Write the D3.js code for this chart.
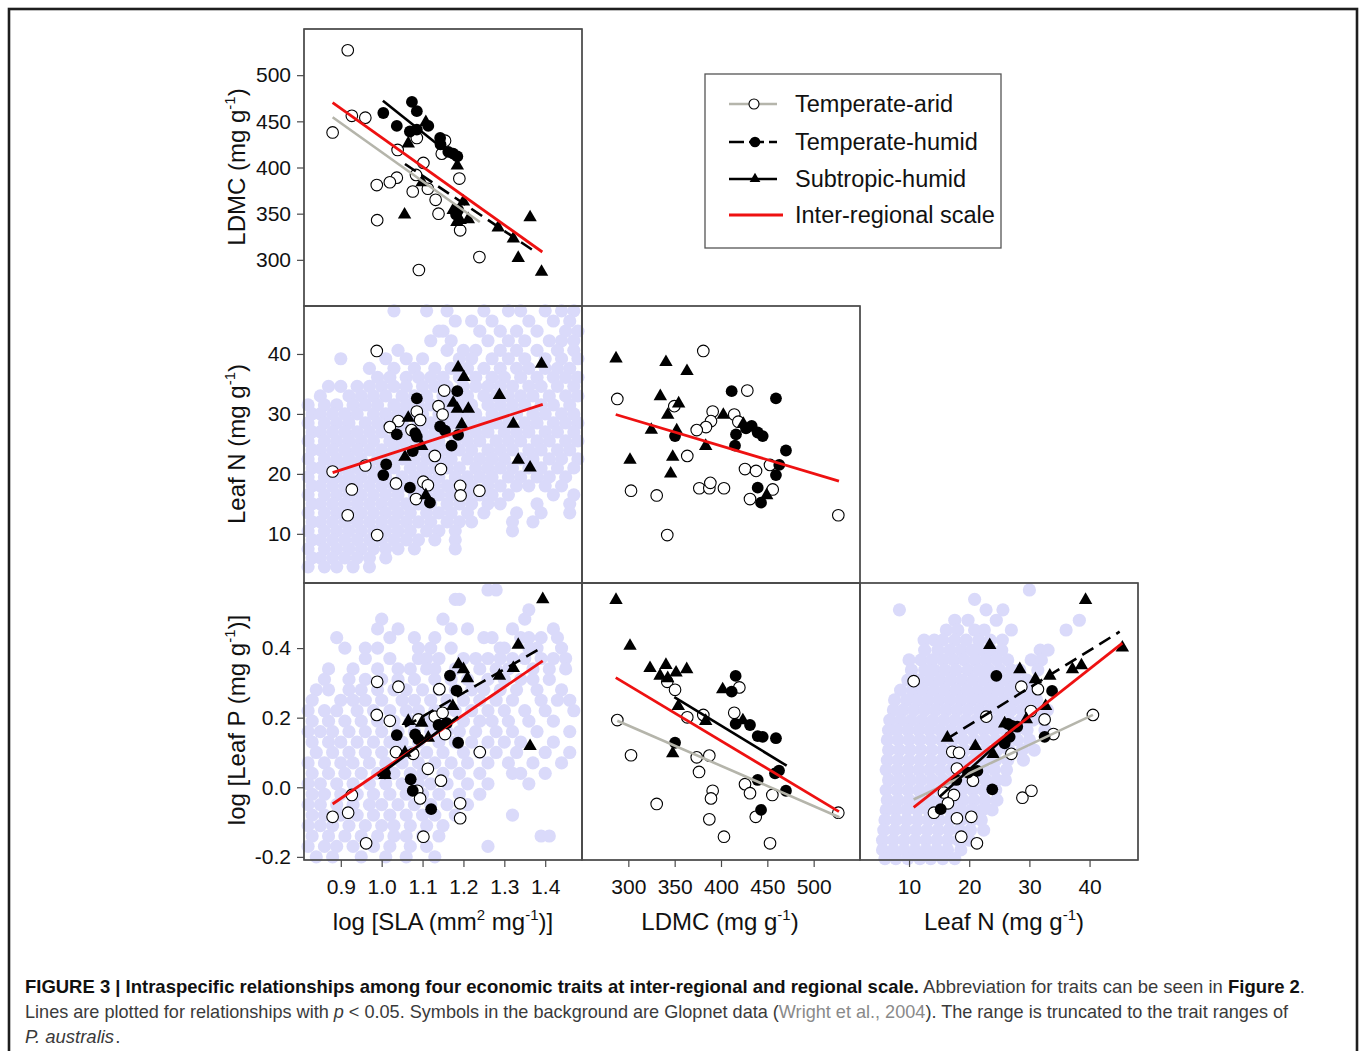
<!DOCTYPE html>
<html><head><meta charset="utf-8">
<script src="https://cdn.jsdelivr.net/npm/d3@7"></script>
<style>body{margin:0;background:#fff}text{font-family:"Liberation Sans",Arial,sans-serif}</style>
</head><body>
<svg id="c" width="1360" height="1051"></svg>
<script>
// ---------- tick labels ----------
const slaTicks = [0.9, 1.0, 1.1, 1.2, 1.3, 1.4];
const ldmcTicks = [300, 350, 400, 450, 500];
const nTicks = [10, 20, 30, 40];
const pTicks = [-0.2, 0.0, 0.2, 0.4];
const legendLabels = ["Temperate-arid", "Temperate-humid", "Subtropic-humid", "Inter-regional scale"];

// ---------- Panel A: log SLA vs LDMC ----------
const A_arid = [[0.917,527],[0.927,456],[0.960,454],[0.880,438],[1.039,419],[1.086,432],[1.155,429],[1.147,415],[1.102,405],[1.084,392],[1.037,389],[1.020,384],[0.988,381],[1.076,374],[1.113,377],[1.132,365],[1.190,388],[1.139,350],[0.989,343],[1.192,332],[1.239,303],[1.091,289]];
const A_humid = [[1.074,471],[1.004,459],[1.086,461],[1.037,445],[1.069,439],[1.086,441],[1.114,445],[1.143,432],[1.144,425],[1.163,417],[1.175,415],[1.185,412],[1.187,354],[1.182,349]];
const A_sub = [[1.065,427],[1.108,450],[1.185,403],[1.099,385],[1.056,350],[1.200,364],[1.175,355],[1.192,344],[1.212,345],[1.184,342],[1.285,336],[1.322,324],[1.363,347],[1.334,303],[1.391,288]];
const A_fits = [
  {g:"inter", x:[0.880,1.393], y:[470.2,308.5]},
  {g:"arid",  x:[0.880,1.240], y:[454.4,341.0]},
  {g:"sub",   x:[1.003,1.184], y:[472.3,408.5]},
  {g:"humid", x:[1.057,1.381], y:[403.8,307.1]}
];

// ---------- Panel B: log SLA vs Leaf N ----------
const B_arid = [[0.988,40.5],[1.153,33.9],[1.139,31.3],[1.149,29.9],[1.086,30.4],[1.094,29.0],[1.041,28.8],[1.020,27.8],[1.073,27.3],[0.880,20.4],[0.960,21.4],[1.130,23.0],[1.145,20.8],[0.927,17.4],[1.035,18.4],[1.102,18.7],[1.113,18.1],[1.084,15.8],[1.192,18.0],[1.193,16.4],[1.239,17.2],[0.917,13.1],[0.989,9.8]];
const B_humid = [[1.086,32.6],[1.185,33.8],[1.143,27.9],[1.037,26.6],[1.082,26.8],[1.086,26.2],[1.155,27.2],[1.187,26.5],[1.171,24.7],[1.076,23.8],[1.011,21.6],[1.004,19.8],[1.069,17.7],[1.118,15.2]];
const B_sub = [[1.187,37.9],[1.201,36.3],[1.391,38.5],[1.288,33.3],[1.175,32.0],[1.185,31.0],[1.212,31.0],[1.196,28.4],[1.065,29.5],[1.322,28.5],[1.098,24.8],[1.057,23.0],[1.334,22.5],[1.363,21.2],[1.108,16.6]];
const B_fits = [{g:"inter", x:[0.880,1.394], y:[20.2,31.6]}];
// Glopnet background (rows: Leaf N, list of log SLA)
const B_glop = [
 [47.2,[1.03,1.11,1.16,1.25,1.31,1.34,1.40,1.44,1.47]],
 [45.5,[1.18,1.22,1.27,1.36,1.42,1.46]],
 [43.8,[1.14,1.15,1.24,1.29,1.33,1.38,1.45,1.48]],
 [42.2,[1.12,1.17,1.26,1.31,1.35,1.41,1.44,1.47]],
 [40.6,[1.04,1.16,1.20,1.23,1.29,1.33,1.38,1.43,1.47]],
 [39.2,[0.90,1.01,1.06,1.10,1.19,1.22,1.27,1.31,1.35,1.40,1.44,1.48]],
 [37.6,[0.97,1.03,1.08,1.13,1.17,1.21,1.25,1.29,1.33,1.36,1.40,1.43,1.46]],
 [36.1,[0.99,1.02,1.06,1.09,1.12,1.15,1.19,1.23,1.27,1.30,1.34,1.38,1.42,1.45,1.48]],
 [34.6,[0.87,0.90,0.94,0.97,1.00,1.03,1.06,1.10,1.13,1.16,1.20,1.23,1.26,1.29,1.32,1.36,1.39,1.43,1.47]],
 [33.0,[0.85,0.92,0.95,0.98,1.01,1.05,1.08,1.11,1.15,1.18,1.21,1.25,1.28,1.31,1.34,1.37,1.41,1.45,1.48]],
 [31.5,[0.82,0.86,0.89,0.93,0.96,0.99,1.03,1.06,1.09,1.12,1.16,1.19,1.22,1.26,1.29,1.32,1.35,1.39,1.42,1.46]],
 [30.0,[0.83,0.85,0.88,0.91,0.94,0.98,1.01,1.04,1.07,1.10,1.14,1.17,1.20,1.23,1.27,1.30,1.33,1.37,1.40,1.44,1.47]],
 [28.5,[0.82,0.86,0.89,0.92,0.96,0.99,1.02,1.05,1.09,1.12,1.15,1.18,1.22,1.25,1.28,1.31,1.35,1.38,1.42,1.45,1.48]],
 [27.0,[0.83,0.85,0.88,0.91,0.94,0.97,1.00,1.04,1.07,1.10,1.13,1.16,1.20,1.23,1.26,1.30,1.33,1.36,1.40,1.43,1.47]],
 [25.5,[0.82,0.86,0.89,0.92,0.95,0.98,1.02,1.05,1.08,1.11,1.14,1.18,1.21,1.24,1.28,1.31,1.34,1.38,1.41,1.45,1.48]],
 [24.0,[0.83,0.85,0.88,0.91,0.94,0.97,1.00,1.03,1.06,1.10,1.13,1.16,1.19,1.22,1.26,1.29,1.32,1.36,1.39,1.43,1.46]],
 [22.5,[0.82,0.86,0.89,0.92,0.95,0.99,1.02,1.05,1.08,1.11,1.14,1.17,1.21,1.24,1.27,1.30,1.34,1.37,1.41,1.44,1.48]],
 [21.0,[0.83,0.85,0.88,0.91,0.94,0.97,1.00,1.03,1.07,1.10,1.13,1.16,1.19,1.23,1.26,1.29,1.32,1.36,1.39,1.43,1.47]],
 [19.5,[0.82,0.86,0.89,0.92,0.95,0.98,1.01,1.05,1.08,1.11,1.14,1.18,1.21,1.24,1.27,1.31,1.34,1.38,1.41,1.45]],
 [18.0,[0.83,0.85,0.88,0.91,0.94,0.97,1.00,1.03,1.06,1.09,1.13,1.16,1.19,1.22,1.26,1.29,1.33,1.36,1.40,1.44]],
 [16.5,[0.82,0.86,0.89,0.92,0.95,0.98,1.01,1.04,1.08,1.11,1.14,1.17,1.21,1.24,1.27,1.31,1.42,1.47]],
 [15.0,[0.83,0.85,0.88,0.91,0.94,0.97,1.00,1.03,1.06,1.09,1.12,1.16,1.19,1.22,1.26,1.29,1.38,1.46]],
 [13.5,[0.82,0.86,0.89,0.92,0.95,0.98,1.01,1.04,1.07,1.11,1.14,1.17,1.21,1.25,1.33,1.39,1.46]],
 [12.0,[0.83,0.85,0.88,0.91,0.94,0.97,1.00,1.03,1.06,1.09,1.12,1.16,1.19,1.22,1.32,1.37]],
 [10.5,[0.82,0.86,0.89,0.92,0.95,0.98,1.01,1.04,1.07,1.11,1.14,1.18,1.32]],
 [9.0,[0.83,0.85,0.88,0.91,0.94,0.97,1.00,1.03,1.06,1.09,1.13,1.18]],
 [7.5,[0.82,0.86,0.89,0.92,0.95,0.98,1.01,1.04,1.08,1.18]],
 [6.0,[0.83,0.85,0.88,0.91,0.94,0.97,1.01]],
 [4.5,[0.82,0.86,0.89,0.93,0.97]]
];

// ---------- Panel C: LDMC vs Leaf N ----------
const C_arid = [[380.9,40.5],[288.1,32.5],[428.4,33.9],[349.6,31.3],[391.0,30.4],[414.3,29.9],[389.2,28.8],[383.8,27.8],[373.8,27.3],[418.7,28.7],[363.6,23.0],[425.9,20.8],[437.8,20.5],[452.9,21.5],[302.9,17.2],[330.6,16.4],[376.6,17.6],[387.4,17.6],[388.5,18.5],[403.2,17.6],[431.3,15.8],[455.8,17.4],[526.6,13.1],[342.0,9.8]];
const C_humid = [[411.5,33.8],[459.3,32.6],[350.4,26.3],[416.2,26.6],[415.1,24.7],[427.0,27.6],[433.1,28.0],[439.6,26.9],[445.0,26.3],[470.1,23.9],[462.9,21.5],[459.3,19.8],[439.6,17.7],[443.2,15.2]];
const C_sub = [[286.7,39.4],[340.6,38.8],[363.3,37.3],[334.5,33.1],[354.3,31.9],[342.5,30.0],[402.5,30.0],[424.1,28.5],[324.8,27.5],[352.2,27.4],[383.5,24.8],[301.8,22.5],[347.9,23.0],[345.7,20.2],[449.3,16.6]];
const C_fits = [{g:"inter", x:[286.4,527.3], y:[29.9,18.8]}];

// ---------- Panel D: log SLA vs log Leaf P ----------
const D_arid = [[0.989,0.303],[1.041,0.289],[1.141,0.282],[0.988,0.208],[1.020,0.191],[1.090,0.195],[1.130,0.203],[1.149,0.214],[1.155,0.153],[1.035,0.101],[1.077,0.096],[1.240,0.101],[1.113,0.053],[1.145,0.019],[0.927,-0.022],[1.087,-0.010],[1.094,-0.032],[0.918,-0.073],[0.880,-0.085],[1.192,-0.046],[1.192,-0.089],[1.102,-0.142],[0.962,-0.161]];
const D_humid = [[1.167,0.321],[1.183,0.278],[1.139,0.179],[1.159,0.184],[1.037,0.150],[1.082,0.152],[1.090,0.138],[1.187,0.128],[1.008,0.040],[1.071,0.023],[1.076,-0.010],[1.121,-0.063]];
const D_sub = [[1.394,0.543],[1.334,0.412],[1.188,0.356],[1.200,0.342],[1.210,0.316],[1.288,0.323],[1.322,0.345],[1.174,0.236],[1.065,0.193],[1.098,0.188],[1.114,0.145],[1.057,0.102],[1.363,0.121],[1.008,0.038]];
const D_fits = [
  {g:"inter", x:[0.880,1.394], y:[-0.048,0.363]},
  {g:"humid", x:[1.057,1.381], y:[0.174,0.394]},
  {g:"sub",   x:[0.990,1.187], y:[0.032,0.203]}
];
// Glopnet background (rows: log P, list of log SLA)
const D_glop = [
 [0.567,[1.26,1.28]],
 [0.540,[1.18,1.19]],
 [0.510,[1.36]],
 [0.483,[1.00,1.35,1.15]],
 [0.455,[0.99,1.04,1.17,1.21,1.32,1.42]],
 [0.430,[0.89,1.02,1.08,1.13,1.25,1.27,1.34,1.36,1.39,1.43]],
 [0.400,[0.91,0.96,0.99,1.09,1.12,1.17,1.29,1.30,1.36,1.38,1.44]],
 [0.370,[0.96,1.02,1.09,1.11,1.14,1.20,1.23,1.26,1.29,1.32,1.35,1.39,1.42,1.45]],
 [0.340,[0.87,0.93,0.99,1.04,1.07,1.11,1.13,1.18,1.24,1.28,1.31,1.37,1.41,1.45]],
 [0.310,[0.86,0.92,0.96,1.00,1.04,1.08,1.13,1.17,1.21,1.26,1.30,1.34,1.37,1.41]],
 [0.280,[0.84,0.87,0.92,0.95,0.99,1.03,1.06,1.10,1.14,1.18,1.22,1.25,1.29,1.33,1.38,1.44]],
 [0.250,[0.83,0.90,0.93,0.96,1.00,1.05,1.08,1.12,1.16,1.20,1.24,1.28,1.32,1.39,1.43,1.46]],
 [0.220,[0.82,0.86,0.89,0.94,0.98,1.02,1.06,1.09,1.13,1.18,1.22,1.26,1.30,1.35,1.40,1.47]],
 [0.190,[0.83,0.87,0.91,0.95,0.99,1.03,1.07,1.11,1.15,1.20,1.24,1.27,1.31,1.36,1.42]],
 [0.160,[0.82,0.85,0.88,0.92,0.96,1.00,1.04,1.08,1.12,1.16,1.19,1.23,1.28,1.32,1.38,1.46]],
 [0.130,[0.83,0.87,0.90,0.94,0.98,1.02,1.05,1.09,1.14,1.18,1.22,1.26,1.30,1.34,1.42]],
 [0.100,[0.84,0.88,0.92,0.96,1.00,1.04,1.07,1.11,1.15,1.20,1.24,1.28,1.33,1.40,1.46]],
 [0.070,[0.82,0.86,0.90,0.93,0.97,1.01,1.05,1.09,1.13,1.17,1.21,1.26,1.31,1.37,1.44]],
 [0.040,[0.83,0.87,0.91,0.95,0.99,1.03,1.07,1.10,1.15,1.19,1.24,1.32,1.34,1.40]],
 [0.010,[0.82,0.85,0.89,0.93,0.97,1.01,1.05,1.09,1.12,1.16,1.21,1.26,1.36]],
 [-0.020,[0.83,0.86,0.90,0.94,0.98,1.02,1.06,1.10,1.14,1.19,1.24]],
 [-0.050,[0.82,0.85,0.89,0.93,0.97,1.00,1.04,1.08,1.12,1.16,1.21]],
 [-0.080,[0.83,0.86,0.90,0.94,0.98,1.02,1.06,1.10,1.13,1.18,1.32]],
 [-0.110,[0.82,0.85,0.88,0.92,0.96,1.00,1.03,1.07,1.11,1.15]],
 [-0.140,[0.83,0.87,0.91,0.95,0.99,1.03,1.06,1.10,1.14,1.39,1.41]],
 [-0.170,[0.82,0.86,0.89,0.93,0.98,1.02,1.07,1.11,1.26]],
 [-0.200,[0.84,0.88,0.95,1.01,1.06,1.13]]
];

// ---------- Panel E: LDMC vs log Leaf P ----------
const E_arid = [[342.0,0.303],[350.4,0.280],[419.8,0.287],[288.1,0.193],[363.6,0.201],[380.9,0.208],[414.3,0.214],[302.9,0.092],[373.8,0.086],[387.4,0.091],[376.3,0.044],[391.0,-0.010],[389.2,-0.032],[425.9,0.009],[431.3,-0.017],[455.4,-0.022],[330.6,-0.048],[387.4,-0.092],[437.5,-0.085],[403.2,-0.142],[452.9,-0.161],[526.6,-0.073]];
const E_humid = [[415.8,0.320],[411.5,0.275],[415.8,0.182],[431.3,0.179],[439.6,0.147],[445.0,0.145],[459.3,0.141],[350.4,0.128],[462.6,0.048],[458.3,0.040],[439.6,0.021],[470.1,-0.010],[443.2,-0.065]];
const E_sub = [[286.7,0.541],[301.8,0.409],[323.4,0.345],[340.6,0.354],[334.2,0.323],[342.5,0.316],[351.5,0.332],[363.0,0.342],[353.9,0.236],[383.5,0.193],[401.8,0.284],[423.6,0.195],[347.9,0.100]];
const E_fits = [
  {g:"arid",  x:[288.1,527.7], y:[0.191,-0.086]},
  {g:"inter", x:[286.4,527.3], y:[0.315,-0.070]},
  {g:"sub",   x:[349.6,470.9], y:[0.259,0.062]}
];

// ---------- Panel F: Leaf N vs log Leaf P ----------
const F_arid = [[10.77,0.305],[28.66,0.289],[31.42,0.282],[22.83,0.203],[30.26,0.219],[32.53,0.195],[40.56,0.208],[27.0,0.096],[17.18,0.102],[18.3,0.099],[34.0,0.153],[17.96,0.054],[20.62,0.019],[15.8,-0.015],[17.46,-0.022],[28.84,-0.030],[30.34,-0.010],[16.47,-0.046],[14.14,-0.073],[17.96,-0.089],[20.35,-0.085],[18.68,-0.142],[21.28,-0.161]];
const F_humid = [[24.51,0.320],[33.77,0.277],[26.43,0.182],[27.1,0.176],[27.98,0.174],[32.53,0.145],[26.72,0.145],[25.89,0.126],[21.35,0.047],[19.79,0.042],[17.85,0.021],[23.83,-0.006],[15.26,-0.063]];
const F_sub = [[39.34,0.541],[23.41,0.411],[28.41,0.342],[31.0,0.313],[33.39,0.323],[37.15,0.342],[38.65,0.353],[45.45,0.404],[16.37,0.145],[21.02,0.121],[23.96,0.098],[25.89,0.186],[29.49,0.198],[32.7,0.236]];
const F_fits = [
  {g:"arid",  x:[10.77,40.56], y:[-0.035,0.208]},
  {g:"sub",   x:[15.09,27.83], y:[-0.027,0.174]},
  {g:"humid", x:[16.2,45.0],   y:[0.138,0.447]},
  {g:"inter", x:[10.77,45.45], y:[-0.058,0.414]}
];
// Glopnet background (rows: log P, list of Leaf N)
const F_glop = [
 [0.567,[30.0]],
 [0.540,[20.9]],
 [0.510,[8.4,22.8,25.6]],
 [0.480,[17.6,19.8,24.5,38.3]],
 [0.452,[16.2,18.1,20.9,22.5,27.0,36.1]],
 [0.423,[12.5,14.2,15.6,17.6,19.5,21.6,23.5,25.5]],
 [0.394,[12.6,14.8,16.8,18.7,20.5,22.0,23.6,25.4,31.8,33.1]],
 [0.366,[10.0,12.0,13.8,15.6,17.4,19.2,21.0,22.8,24.6,26.4,30.3,32.0]],
 [0.337,[10.4,12.6,14.2,16.0,17.8,19.8,21.6,23.3,25.1,27.0,28.4,31.4]],
 [0.308,[9.8,11.6,13.4,15.2,17.0,18.8,20.6,22.4,24.2,26.0,27.8,29.6]],
 [0.279,[8.6,10.6,12.4,14.2,16.0,17.8,19.6,21.4,23.2,25.0,26.8,28.6,30.4]],
 [0.251,[7.6,9.6,11.4,13.2,15.0,16.8,18.6,20.4,22.2,24.0,25.8,27.6,29.4,31.2]],
 [0.222,[7.4,9.0,10.8,12.6,14.4,16.2,18.0,19.8,21.6,23.4,25.2,27.0,28.8,31.6,33.0]],
 [0.193,[6.8,8.6,10.4,12.2,14.0,15.8,17.6,19.4,21.2,23.0,24.8,26.6,28.6,30.6,32.4]],
 [0.164,[6.6,8.0,9.8,11.6,13.4,15.2,17.0,18.8,20.6,22.4,24.2,26.0,27.8,29.6,32.6]],
 [0.136,[6.4,8.2,10.0,11.8,13.6,15.4,17.2,19.0,20.8,22.6,24.4,26.2,28.0,30.0]],
 [0.107,[6.6,8.4,10.2,12.0,13.8,15.6,17.4,19.2,21.0,22.8,24.6,26.6,28.8,30.8]],
 [0.078,[6.4,8.2,10.0,11.8,13.6,15.4,17.2,19.0,20.8,22.6,24.4,26.4,29.0]],
 [0.050,[6.2,8.0,9.8,11.6,13.4,15.2,17.0,18.8,20.6,22.4,24.2,26.2]],
 [0.021,[6.6,8.4,10.2,12.0,13.8,15.6,17.4,19.2,21.0,22.8,24.6,26.0]],
 [-0.008,[6.2,8.0,9.8,11.6,13.4,15.2,17.0,18.8,20.6,22.4,24.4]],
 [-0.037,[6.4,8.2,10.0,11.8,13.6,15.4,17.2,19.0,20.8,22.6,24.6]],
 [-0.065,[6.2,7.8,9.6,11.4,13.2,15.0,16.8,18.6,20.4,22.2,23.8]],
 [-0.094,[6.0,7.8,9.6,11.4,13.2,15.0,16.8,18.6,20.4,22.0]],
 [-0.123,[5.8,7.6,9.4,11.2,13.0,14.8,16.6,18.4,20.2,22.4]],
 [-0.152,[5.6,7.4,9.2,11.0,12.8,14.6,16.4,18.2,20.0]],
 [-0.180,[5.6,7.4,9.2,11.0,12.8,14.6,16.4,18.6]],
 [-0.205,[6.0,7.8,9.8,11.8,13.6,15.6,17.6]]
];

// ---------- drawing ----------
const svg = d3.select("#c");
const GLOP = "#dadafa", GRAY = "#b5b5ab", RED = "#ee1111", FRAME = "#4a4a4a";

svg.append("rect").attr("x",9).attr("y",9).attr("width",1348).attr("height",1070)
  .attr("fill","none").attr("stroke","#1e1e1e").attr("stroke-width",2.6);

const slaX = d3.scaleLinear([0.81,1.49],[304,582]);
const ldmcX = d3.scaleLinear([250,550],[582,860]);
const nX = d3.scaleLinear([1.85,48.05],[860,1138]);
const ldmcY = d3.scaleLinear([250,550],[306,29]);
const nY = d3.scaleLinear([1.8,48],[583,306]);
const pY = d3.scaleLinear([-0.209,0.587],[860,583]);

const tri = d3.symbol().type(d3.symbolTriangle).size(78);
const fitStyle = {
  inter:{stroke:RED, w:2.8, dash:null},
  arid:{stroke:GRAY, w:2.6, dash:null},
  humid:{stroke:"#000", w:2.6, dash:"13,7"},
  sub:{stroke:"#000", w:2.6, dash:null}
};

function drawPanel(xs, ys, glopRows, arid, humid, sub, fits) {
  const g = svg.append("g");
  const [x0,x1] = xs.range(), [y1,y0] = ys.range();
  if (glopRows) {
    const pts = glopRows.flatMap(([yv, xv]) => xv.map(x => [x, yv]));
    g.selectAll("circle.glop").data(pts).join("circle").attr("class","glop")
      .attr("cx",d=>xs(d[0])).attr("cy",d=>ys(d[1])).attr("r",6.6).attr("fill",GLOP);
  }
  g.append("rect").attr("x",x0).attr("y",y0).attr("width",x1-x0).attr("height",y1-y0)
    .attr("fill","none").attr("stroke",FRAME).attr("stroke-width",1.3);
  g.selectAll("circle.arid").data(arid).join("circle").attr("class","arid")
    .attr("cx",d=>xs(d[0])).attr("cy",d=>ys(d[1])).attr("r",5.8)
    .attr("fill","#fff").attr("stroke","#000").attr("stroke-width",1.1);
  g.selectAll("circle.humid").data(humid).join("circle").attr("class","humid")
    .attr("cx",d=>xs(d[0])).attr("cy",d=>ys(d[1])).attr("r",5.9).attr("fill","#000");
  g.selectAll("path.sub").data(sub).join("path").attr("class","sub")
    .attr("d",tri).attr("transform",d=>`translate(${xs(d[0])},${ys(d[1])+1})`).attr("fill","#000");
  fits.forEach(f => {
    const s = fitStyle[f.g];
    g.append("line").attr("x1",xs(f.x[0])).attr("y1",ys(f.y[0]))
      .attr("x2",xs(f.x[1])).attr("y2",ys(f.y[1]))
      .attr("stroke",s.stroke).attr("stroke-width",s.w).attr("stroke-dasharray",s.dash);
  });
}

drawPanel(slaX, ldmcY, null, A_arid, A_humid, A_sub, A_fits);
drawPanel(slaX, nY, B_glop, B_arid, B_humid, B_sub, B_fits);
drawPanel(ldmcX, nY, null, C_arid, C_humid, C_sub, C_fits);
drawPanel(slaX, pY, D_glop, D_arid, D_humid, D_sub, D_fits);
drawPanel(ldmcX, pY, null, E_arid, E_humid, E_sub, E_fits);
drawPanel(nX, pY, F_glop, F_arid, F_humid, F_sub, F_fits);

// redraw panel frames on top of overflowing background symbols
[[slaX,ldmcY],[slaX,nY],[ldmcX,nY],[slaX,pY],[ldmcX,pY],[nX,pY]].forEach(([xs,ys])=>{
  const [x0,x1]=xs.range(),[y1,y0]=ys.range();
  svg.append("rect").attr("x",x0).attr("y",y0).attr("width",x1-x0).attr("height",y1-y0)
    .attr("fill","none").attr("stroke",FRAME).attr("stroke-width",1.3);
});

// ---------- axes ----------
function styleAxis(sel){
  sel.select(".domain").remove();
  sel.selectAll(".tick line").attr("stroke",FRAME).attr("stroke-width",1.2);
  sel.selectAll(".tick text").attr("fill","#111").style("font-size","21px")
    .style("font-family",'"Liberation Sans",Arial,sans-serif');
}
const fmt1 = d => d.toFixed(1), fmt0 = d => String(d);
svg.append("g").attr("transform","translate(304,0)")
  .call(d3.axisLeft(ldmcY).tickValues(ldmcTicks).tickFormat(fmt0).tickSize(7).tickPadding(6)).call(styleAxis);
svg.append("g").attr("transform","translate(304,0)")
  .call(d3.axisLeft(nY).tickValues(nTicks).tickFormat(fmt0).tickSize(7).tickPadding(6)).call(styleAxis);
svg.append("g").attr("transform","translate(304,0)")
  .call(d3.axisLeft(pY).tickValues(pTicks).tickFormat(fmt1).tickSize(7).tickPadding(6)).call(styleAxis);
svg.append("g").attr("transform","translate(0,860)")
  .call(d3.axisBottom(slaX).tickValues(slaTicks).tickFormat(fmt1).tickSize(7).tickPadding(12)).call(styleAxis);
svg.append("g").attr("transform","translate(0,860)")
  .call(d3.axisBottom(ldmcX).tickValues(ldmcTicks).tickFormat(fmt0).tickSize(7).tickPadding(12)).call(styleAxis);
svg.append("g").attr("transform","translate(0,860)")
  .call(d3.axisBottom(nX).tickValues(nTicks).tickFormat(fmt0).tickSize(7).tickPadding(12)).call(styleAxis);

// ---------- axis titles ----------
function title(x, y, rot, parts){
  const t = svg.append("text").attr("transform",`translate(${x},${y}) rotate(${rot})`)
    .attr("text-anchor","middle").style("font-size","24px").attr("fill","#111");
  let up = false;
  parts.forEach(([s, sup]) => {
    const ts = t.append("tspan").text(s);
    if (sup && !up) { ts.attr("dy",-10).style("font-size","15px"); up = true; }
    else if (sup && up) { ts.style("font-size","15px"); }
    else if (!sup && up) { ts.attr("dy",10); up = false; }
  });
}
title(245, 167, -90, [["LDMC (mg g",0],["-1",1],[")",0]]);
title(245, 444, -90, [["Leaf N (mg g",0],["-1",1],[")",0]]);
title(245, 720, -90, [["log [Leaf P (mg g",0],["-1",1],[")]",0]]);
title(443, 930, 0, [["log [SLA (mm",0],["2",1],[" mg",0],["-1",1],[")]",0]]);
title(720, 930, 0, [["LDMC (mg g",0],["-1",1],[")",0]]);
title(1004, 930, 0, [["Leaf N (mg g",0],["-1",1],[")",0]]);

// ---------- legend ----------
const lg = svg.append("g");
lg.append("rect").attr("x",705).attr("y",74).attr("width",296).attr("height",174)
  .attr("fill","#fff").attr("stroke","#555").attr("stroke-width",1.3);
const rowsY = [104, 142, 179, 215];
const keys = ["arid","humid","sub","inter"];
keys.forEach((k,i)=>{
  const y = rowsY[i], s = fitStyle[k];
  lg.append("line").attr("x1",729).attr("x2",k==="inter"?783:777).attr("y1",y).attr("y2",y)
    .attr("stroke",s.stroke).attr("stroke-width",s.w).attr("stroke-dasharray",k==="humid"?"15,5":null);
  if (k==="arid") lg.append("circle").attr("cx",754).attr("cy",y).attr("r",5).attr("fill","#fff").attr("stroke","#000").attr("stroke-width",1.1);
  if (k==="humid") lg.append("circle").attr("cx",755).attr("cy",y).attr("r",5.3).attr("fill","#000");
  if (k==="sub") lg.append("path").attr("d",d3.symbol().type(d3.symbolTriangle).size(50)).attr("transform",`translate(755,${y})`).attr("fill","#000");
  lg.append("text").attr("x",795).attr("y",y+8).text(legendLabels[i]).style("font-size","23.5px").attr("fill","#111");
});

// ---------- caption ----------
const cap = svg.append("g").style("font-size","18.5px");
const c1 = cap.append("text").attr("x",25).attr("y",993).attr("textLength",1280).attr("lengthAdjust","spacingAndGlyphs").attr("fill","#3a3a3a");
c1.append("tspan").attr("font-weight","bold").attr("fill","#111").text("FIGURE 3 | Intraspecific relationships among four economic traits at inter-regional and regional scale.");
c1.append("tspan").text(" Abbreviation for traits can be seen in ");
c1.append("tspan").attr("font-weight","bold").attr("fill","#111").text("Figure 2");
c1.append("tspan").text(".");
const c2 = cap.append("text").attr("x",25).attr("y",1018).attr("fill","#3a3a3a").style("font-size","18.1px");
c2.append("tspan").text("Lines are plotted for relationships with ");
c2.append("tspan").attr("font-style","italic").text("p");
c2.append("tspan").attr("dx",5).text("< 0.05. Symbols in the background are Glopnet data (");
c2.append("tspan").attr("fill","#8a8a8a").text("Wright et al., 2004");
c2.append("tspan").text("). The range is truncated to the trait ranges of");
const c3 = cap.append("text").attr("x",25).attr("y",1043).attr("fill","#3a3a3a");
c3.append("tspan").attr("font-style","italic").text("P. australis");
c3.append("tspan").attr("dx",1).text(".");
</script>
</body></html>
